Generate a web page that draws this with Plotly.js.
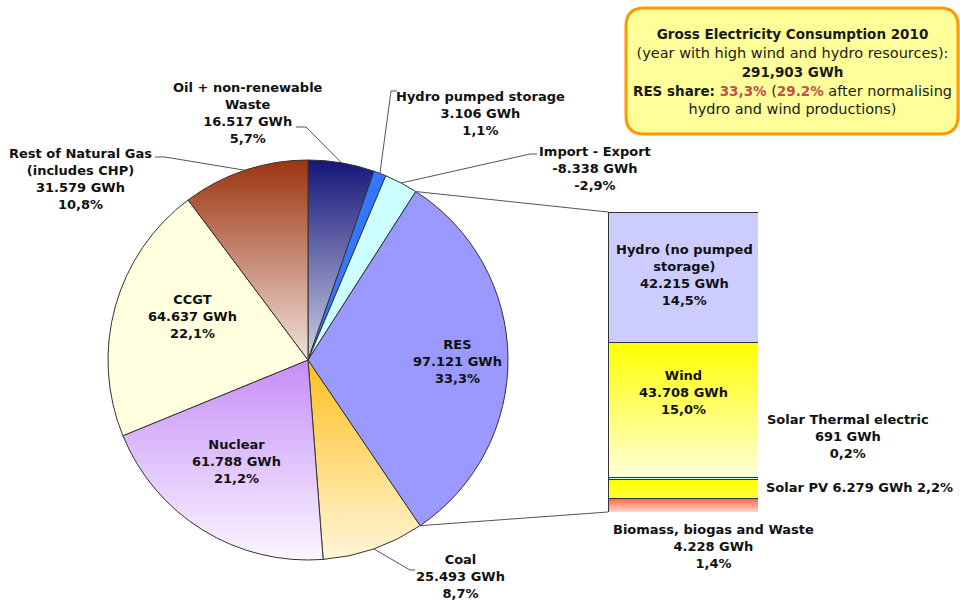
<!DOCTYPE html>
<html><head><meta charset="utf-8">
<script src="https://cdn.plot.ly/plotly-3.0.1.min.js"></script>
<style>html,body{margin:0;padding:0;background:#fff}#chart{width:960px;height:605px}</style>
</head><body><div id="chart"></div>
<script>
// ---- data ----
const sliceNames = ['Oil + non-renewable<br>Waste', 'Hydro pumped storage', 'Import - Export', 'RES', 'Coal', 'Nuclear', 'CCGT', 'Rest of Natural Gas<br>(includes CHP)'];
const sliceGWh = [16517, 3106, -8338, 97121, 25493, 61788, 64637, 31579];
const slicePct = ['5,7%', '1,1%', '-2,9%', '33,3%', '8,7%', '21,2%', '22,1%', '10,8%'];
const resNames = ['Hydro (no pumped<br>storage)', 'Wind', 'Solar Thermal electric', 'Solar PV', 'Biomass, biogas and Waste'];
const resGWh = [42215, 43708, 691, 6279, 4228];
const resPct = ['14,5%', '15,0%', '0,2%', '2,2%', '1,4%'];
const totalConsumption = '291,903 GWh';
const resShare = '33,3%';
const resShareNormalised = '29.2%';

// ---- styles ----
const sliceColors = ['#3a3a8c', '#3377ff', '#ccffff', '#9999ff', '#ffdd88', '#ddbbfa', '#ffffe0', '#c47a62'];
const sliceGrad = [['#15157a', '#cdd0e4'], null, null, null, ['#ffbf1f', '#fff6d8'], ['#c58ef8', '#fbf6ff'], null, ['#9c3510', '#f2e2dc']];
const resColors = ['#ccccff', '#ffff66', '#ccffff', '#ffff00', '#ff9a80'];
const resGrad = [null, ['#ffff00', '#ffffd8'], null, ['#ffff00', '#ffff40'], ['#ff6a48', '#ffd6c8']];

const W = 960, H = 605;
const X = x => x / W, Y = y => 1 - y / H;
const pie = {cx: 308, cy: 360, r: 200};
const bar = {x0: 608, x1: 758, y0: 212, y1: 512};

function fmt(v) {
  const s = Math.abs(v).toString().replace(/\B(?=(\d{3})+(?!\d))/g, '.');
  return (v < 0 ? '-' : '') + s + ' GWh';
}
const absVals = sliceGWh.map(Math.abs);
const total = absVals.reduce((a, b) => a + b, 0);
const cum = []; let acc = 0;
absVals.forEach(v => { cum.push(acc); acc += v; });
function edge(deg) {
  const a = deg * Math.PI / 180;
  return [pie.cx + pie.r * Math.sin(a), pie.cy - pie.r * Math.cos(a)];
}
const midDeg = i => (cum[i] + absVals[i] / 2) / total * 360;
const startDeg = i => cum[i] / total * 360;
const endDeg = i => (cum[i] + absVals[i]) / total * 360;

const FONT = 'DejaVu Sans';
const data = [{
  type: 'pie', values: absVals, labels: sliceNames, sort: false, direction: 'clockwise', rotation: 0,
  textinfo: 'none', hoverinfo: 'none',
  marker: {colors: sliceColors, line: {color: '#333333', width: 1}},
  domain: {x: [X(pie.cx - pie.r), X(pie.cx + pie.r)], y: [Y(pie.cy + pie.r), Y(pie.cy - pie.r)]}
}];
for (let i = resGWh.length - 1; i >= 0; i--) {
  data.push({type: 'bar', x: ['RES'], y: [resGWh[i]], width: 1, xaxis: 'x', yaxis: 'y', hoverinfo: 'none',
    marker: {color: resColors[i], line: {color: '#333333', width: 1}}});
}
const resTotal = resGWh.reduce((a, b) => a + b, 0);

// label placements (px centres)
const sliceLabelPos = [[248, 113], [480, 113], [595, 168], [457, 361], [460, 576], [236, 461], [192, 316], [80, 179]];
const resLabelPos = [[684, 275], [683, 392], [848, 436], [859, 487], [713, 546]];
const annotations = [];
sliceNames.forEach((n, i) => {
  annotations.push({xref: 'paper', yref: 'paper', x: X(sliceLabelPos[i][0]), y: Y(sliceLabelPos[i][1]),
    xanchor: 'center', yanchor: 'middle', showarrow: false, align: 'center',
    text: '<b>' + n + '<br>' + fmt(sliceGWh[i]) + '<br>' + slicePct[i] + '</b>',
    font: {family: FONT, size: 13, color: '#111111'}});
});
resNames.forEach((n, i) => {
  const t = i === 3 ? n + ' ' + fmt(resGWh[i]) + ' ' + resPct[i] : n + '<br>' + fmt(resGWh[i]) + '<br>' + resPct[i];
  annotations.push({xref: 'paper', yref: 'paper', x: X(resLabelPos[i][0]), y: Y(resLabelPos[i][1]),
    xanchor: 'center', yanchor: 'middle', showarrow: false, align: 'center',
    text: '<b>' + t + '</b>', font: {family: FONT, size: 13, color: '#111111'}});
});
const B = s => '<span style="font-size:13.5px"><b>' + s + '</b></span>';
const red = s => '<span style="color:#c0504d;font-size:13.5px"><b>' + s + '</b></span>';
annotations.push({xref: 'paper', yref: 'paper', x: X(792), y: Y(71), xanchor: 'center', yanchor: 'middle',
  showarrow: false, align: 'center', font: {family: FONT, size: 14.5, color: '#1a1a1a'},
  text: B('Gross Electricity Consumption 2010') + '<br>(year with high wind and hydro resources):<br>' + B(totalConsumption) +
    '<br>' + B('RES share: ') + red(resShare) + ' (' + red(resShareNormalised) + ' after normalising<br>hydro and wind productions)'});

// shapes
function pathPx(pts) { return pts.map((p, k) => (k ? 'L' : 'M') + X(p[0]) + ',' + Y(p[1])).join(' '); }
const shapes = [];
const leader = {color: '#555555', width: 1};
const e0 = edge(midDeg(0)), e1 = edge(midDeg(1)), e2 = edge(midDeg(2)), e4 = edge(midDeg(4)), e7 = edge(midDeg(7));
shapes.push({type: 'path', xref: 'paper', yref: 'paper', path: pathPx([[296, 127], [306, 127], e0]), line: leader});
shapes.push({type: 'path', xref: 'paper', yref: 'paper', path: pathPx([[397, 91], [391, 91], e1]), line: leader});
shapes.push({type: 'path', xref: 'paper', yref: 'paper', path: pathPx([[537, 154], [530, 154], e2]), line: leader});
shapes.push({type: 'path', xref: 'paper', yref: 'paper', path: pathPx([e4, [410, 570], [415, 570]]), line: leader});
shapes.push({type: 'path', xref: 'paper', yref: 'paper', path: pathPx([[155, 157], [165, 157], e7]), line: leader});
// connectors pie -> bar
const iRES = 3;
shapes.push({type: 'path', xref: 'paper', yref: 'paper', path: pathPx([edge(startDeg(iRES)), [bar.x0, bar.y0]]), line: leader});
shapes.push({type: 'path', xref: 'paper', yref: 'paper', path: pathPx([edge(endDeg(iRES)), [bar.x0, bar.y1]]), line: leader});
// rounded box
(function () {
  const x0 = 626, x1 = 958, y0 = 8, y1 = 134, r = 18;
  const P = (x, y) => X(x) + ',' + Y(y);
  const p = 'M' + P(x0 + r, y0) + ' L' + P(x1 - r, y0) + ' Q' + P(x1, y0) + ' ' + P(x1, y0 + r) +
    ' L' + P(x1, y1 - r) + ' Q' + P(x1, y1) + ' ' + P(x1 - r, y1) + ' L' + P(x0 + r, y1) +
    ' Q' + P(x0, y1) + ' ' + P(x0, y1 - r) + ' L' + P(x0, y0 + r) + ' Q' + P(x0, y0) + ' ' + P(x0 + r, y0) + ' Z';
  shapes.push({type: 'path', xref: 'paper', yref: 'paper', path: p, fillcolor: '#ffff99', line: {color: '#ff9900', width: 3}, layer: 'below'});
})();

const layout = {
  width: W, height: H, margin: {l: 0, r: 0, t: 0, b: 0}, showlegend: false,
  paper_bgcolor: '#ffffff', plot_bgcolor: 'rgba(0,0,0,0)', barmode: 'stack', bargap: 0,
  xaxis: {domain: [X(bar.x0), X(bar.x1)], range: [-0.5, 0.5], type: 'category', visible: false, fixedrange: true},
  yaxis: {domain: [Y(bar.y1), Y(bar.y0)], range: [0, resTotal], visible: false, fixedrange: true},
  annotations: annotations, shapes: shapes
};

Plotly.newPlot('chart', data, layout, {staticPlot: true, displayModeBar: false}).then(gd => {
  const NS = 'http://www.w3.org/2000/svg';
  const svg = gd.querySelector('.main-svg');
  let defs = svg.querySelector('defs');
  if (!defs) { defs = document.createElementNS(NS, 'defs'); svg.insertBefore(defs, svg.firstChild); }
  function grad(id, c1, c2) {
    const g = document.createElementNS(NS, 'linearGradient');
    g.setAttribute('id', id); g.setAttribute('x1', '0'); g.setAttribute('y1', '0'); g.setAttribute('x2', '0'); g.setAttribute('y2', '1');
    [[0, c1], [1, c2]].forEach(([o, c]) => { const s = document.createElementNS(NS, 'stop'); s.setAttribute('offset', o); s.setAttribute('stop-color', c); g.appendChild(s); });
    defs.appendChild(g);
    return 'url(#' + id + ')';
  }
  const slicePaths = gd.querySelectorAll('.pielayer .slice path.surface');
  sliceGrad.forEach((gc, i) => { if (gc && slicePaths[i]) slicePaths[i].style.fill = grad('sg' + i, gc[0], gc[1]); });
  const barTraces = gd.querySelectorAll('.barlayer .trace');
  barTraces.forEach((tr, k) => {
    const i = resGWh.length - 1 - k;
    const gc = resGrad[i];
    const pth = tr.querySelector('.point path');
    if (gc && pth) pth.style.fill = grad('bg' + i, gc[0], gc[1]);
  });
});
</script></body></html>
